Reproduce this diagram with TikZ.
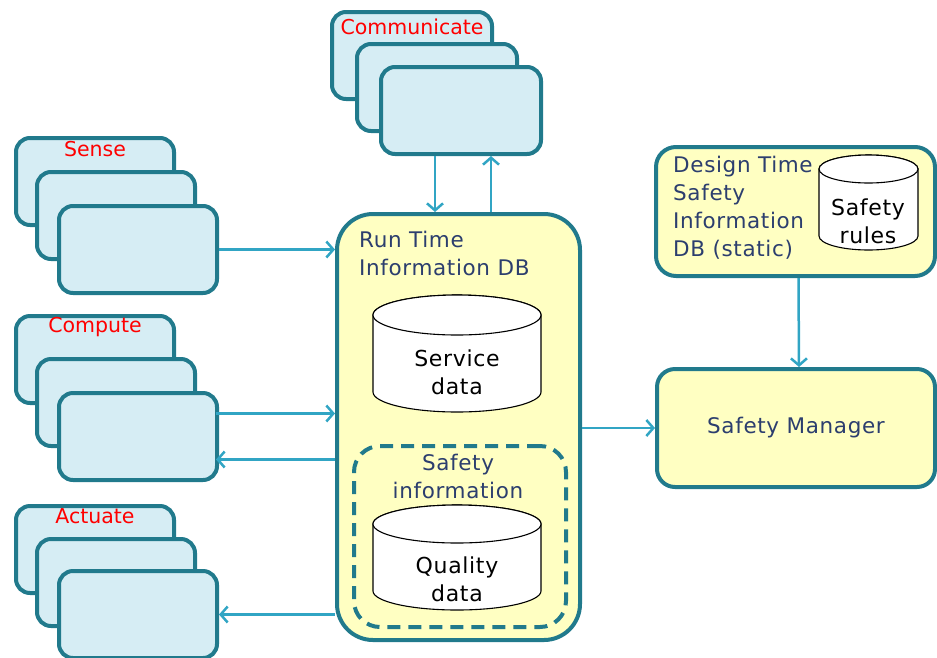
\documentclass[tikz,border=0pt]{standalone}
\usepackage{fontspec}
\setmainfont{DejaVu Sans}
\newfontfamily\spacedfont[LetterSpace=3]{DejaVu Sans}
\newfontfamily\drumfont[LetterSpace=3]{DejaVu Sans}
\usetikzlibrary{arrows.meta}

\definecolor{edge}{RGB}{33,122,140}
\definecolor{tilefill}{RGB}{214,237,244}
\definecolor{dbfill}{RGB}{255,255,194}
\definecolor{flow}{RGB}{49,165,196}
\definecolor{ink}{RGB}{44,62,110}
\definecolor{tagred}{RGB}{255,0,0}

\tikzset{
  tile/.style={draw=edge, fill=tilefill, line width=4pt, rounded corners=14pt,
    minimum width=158pt, minimum height=87pt, anchor=north west, inner sep=0pt},
  store/.style={draw=edge, fill=dbfill, line width=4pt, anchor=north west, inner sep=0pt},
  zone/.style={draw=edge, line width=4pt, dash pattern=on 13pt off 8pt,
    rounded corners=26pt, anchor=north west, inner sep=0pt},
  tag/.style={text=tagred, font=\fontsize{20.5}{24}\selectfont, inner sep=0pt},
  caption/.style={text=ink, font=\spacedfont\fontsize{21.5}{28}\selectfont, inner sep=0pt},
  dbtext/.style={text=black, font=\drumfont\fontsize{22}{28}\selectfont, inner sep=0pt, align=center},
  drumline/.style={draw=black, fill=white, line width=1.1pt},
  flowline/.style={draw=flow, line width=2.5pt,
    -{Straight Barb[length=7pt, width=16pt, line width=2.5pt]}},
}

% cylinder: left, top, right, bottom, vertical radius of the end ellipses
\newcommand\drum[5]{%
  \pgfmathsetmacro\drumrx{(#3-#1)/2}%
  \filldraw[drumline] (#1,{#2+#5}) -- (#1,{#4-#5})
    arc[start angle=180, end angle=360, x radius=\drumrx pt, y radius=#5pt]
    -- (#3,{#2+#5})
    arc[start angle=0, end angle=180, x radius=\drumrx pt, y radius=#5pt] -- cycle;
  \draw[drumline] ({(#1+#3)/2},{#2+#5}) ellipse [x radius=\drumrx pt, y radius=#5pt];
}

\begin{document}
\begin{tikzpicture}[x=1pt, y=-1pt]
\useasboundingbox (0,0) rectangle (937,657);

% ---- Communicate stack
\node[tile, minimum width=160pt] (comA) at (330,10) {};
\node[tile, minimum width=160pt] (comB) at (355,42) {};
\node[tile, minimum width=160pt] (comC) at (379,65) {};
\node[tag] (comT) at ([yshift=-17pt]comA.north) {Communicate};

% ---- Sense stack
\node[tile] (senA) at (14,136) {};
\node[tile] (senB) at (35,170) {};
\node[tile] (senC) at (57,204) {};
\node[tag] (senT) at ([yshift=-13pt]senA.north) {Sense};

% ---- Compute stack
\node[tile] (cmpA) at (14,314) {};
\node[tile] (cmpB) at (35,357) {};
\node[tile] (cmpC) at (57,391) {};
\node[tag] (cmpT) at ([yshift=-13pt]cmpA.north) {Compute};

% ---- Actuate stack
\node[tile] (actA) at (14,504) {};
\node[tile] (actB) at (35,537) {};
\node[tile] (actC) at (57,569) {};
\node[tag] (actT) at ([yshift=-12pt]actA.north) {Actuate};

% ---- Run time information database
\node[store, rounded corners=36pt, minimum width=243pt, minimum height=426pt] (rt) at (335,212) {};
\node[caption, anchor=north west, align=left] (rtT) at (359,231) {Run Time\\Information DB};

\drum{373}{295}{541}{412}{20}
\node[dbtext] (svc) at (457,372) {Service\\data};

\node[zone, minimum width=212pt, minimum height=181pt] (safe) at (352,444) {};
\node[caption, align=center] (safeT) at (458,476) {Safety\\information};

\drum{373}{505}{541}{610}{19}
\node[dbtext] (qual) at (457,579) {Quality\\data};

% ---- Design time database
\node[store, rounded corners=20pt, minimum width=279pt, minimum height=129pt] (dt) at (654,145) {};
\node[caption, anchor=north west, align=left] (dtT) at (673,156) {Design Time\\Safety\\Information\\DB (static)};
\drum{819}{155}{918}{250}{14}
\node[dbtext] (rules) at (868,221) {Safety\\rules};

% ---- Safety manager
\node[store, rounded corners=18pt, minimum width=278pt, minimum height=118pt] (sm) at (655,367) {};
\node[caption] (smT) at (sm.center) {Safety Manager};

% ---- Data flows
\draw[flowline] ([xshift=-26pt]comC.south) -- ([xshift=-26pt]comC.south |- rt.north);
\draw[flowline] ([xshift=30pt]comC.south |- rt.north) -- ([xshift=30pt]comC.south);
\draw[flowline] (senC.east) -- (senC.east -| rt.west);
\draw[flowline] ([xshift=-3pt, yshift=23pt]cmpC.east) -- ([yshift=23pt]cmpC.east -| rt.west);
\draw[flowline] ([yshift=-23pt]cmpC.east -| rt.west) -- ([xshift=-3pt, yshift=-23pt]cmpC.east);
\draw[flowline] (actC.east -| rt.west) -- (actC.east);
\draw[flowline] (sm.west -| rt.east) -- (sm.west);
\draw[flowline] ([xshift=3pt]dt.south) -- ([xshift=3pt]sm.north);
\end{tikzpicture}
\end{document}
